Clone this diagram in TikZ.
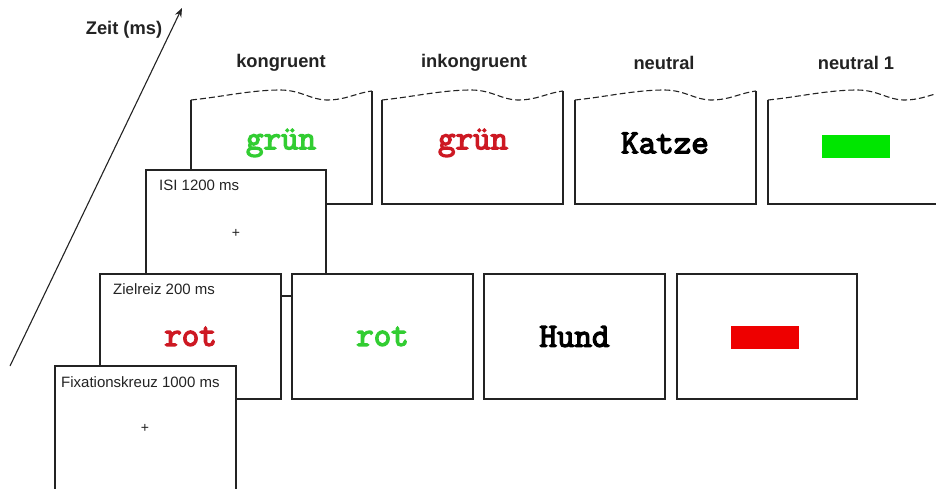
\documentclass[tikz,border=0pt]{standalone}
\usepackage{fontspec}
\setmainfont{Liberation Sans}
\newfontfamily\wordfont[AutoFakeBold=4]{Latin Modern Mono}
\usetikzlibrary{arrows.meta}
\definecolor{wgreen}{RGB}{50,205,50}
\definecolor{wred}{RGB}{205,25,35}
\definecolor{rgreen}{RGB}{0,230,0}
\definecolor{rred}{RGB}{238,0,0}
\definecolor{frm}{RGB}{35,35,35}
\tikzset{
  frame/.style={draw=frm, line width=1.2pt, fill=white, inner sep=0pt, outer sep=0pt, anchor=north west},
  wave/.style={draw=frm, line width=1.1pt, dash pattern=on 6pt off 3pt},
  lab/.style={font=\bfseries\fontsize{18.3}{20}\selectfont, text=frm},
  small/.style={font=\fontsize{15}{17}\selectfont, anchor=west, inner sep=0pt, text=frm},
  word/.style={font=\wordfont\bfseries\fontsize{34}{36}\selectfont},
  cross/.style={font=\fontsize{14}{15}\selectfont, inner sep=0pt, text=frm}
}
\newcommand\wavybox[2]{%
  \begin{scope}[xshift=#1pt]
    \fill[white] (0,100) .. controls (30,97) and (60,90) .. (89,90) .. controls (110,90) and (120,100) .. (136,100) .. controls (155,100) and (165,93) .. (181,91) -- (181,204) -- (0,204) -- cycle;
    \draw[draw=frm, line width=1.2pt] (0,100) -- (0,204) -- (181,204) -- (181,91);
    \draw[wave] (0,100) .. controls (30,97) and (60,90) .. (89,90) .. controls (110,90) and (120,100) .. (136,100) .. controls (155,100) and (165,93) .. (181,91);
    \coordinate (#2) at (90.5,147);
  \end{scope}}
\begin{document}
\begin{tikzpicture}[x=1pt,y=-1pt]
\useasboundingbox (0,0) rectangle (936,489);
\clip (0,0) rectangle (936,489);
\fill[white] (0,0) rectangle (936,489);

% time arrow
\coordinate (t0) at (10,366);
\coordinate (t1) at (182,8);
\draw[frm, line width=1.1pt, -{Stealth[length=9pt,width=7pt]}] (t0) -- (t1);
\node[lab] (zeit) at (124,30) {Zeit (ms)};

% column labels
\node[lab] (lk) at (281,63) {kongruent};
\node[lab] (li) at (474,63) {inkongruent};
\node[lab] (ln) at (664,63) {neutral};
\node[lab] (ln1) at (856,63) {neutral 1};

% top row
\wavybox{191}{c1}
\wavybox{382}{c2}
\wavybox{575}{c3}
\wavybox{768}{c4}
\node[word, text=wgreen] (w1) at (281,143) {grün};
\node[word, text=wred] (w2) at (473,143) {grün};
\node[word, text=black] (w3) at (665,143) {Katze};
\fill[rgreen] (822,135) rectangle (890,158);

% ISI
\node[frame, minimum width=180pt, minimum height=126pt] (isi) at (146,170) {};
\node[small] (isil) at (159,185) {ISI 1200 ms};
\node[cross] (isip) at (236,233) {+};

% bottom row
\node[frame, minimum width=181pt, minimum height=125pt] (b1) at (100,274) {};
\node[frame, minimum width=181pt, minimum height=125pt] (b2) at (292,274) {};
\node[frame, minimum width=181pt, minimum height=125pt] (b3) at (484,274) {};
\node[frame, minimum width=180pt, minimum height=125pt] (b4) at (677,274) {};
\node[small] (zl) at (113,289) {Zielreiz 200 ms};
\node[word, text=wred] (r1) at (b1.center) {rot};
\node[word, text=wgreen] (r2) at (b2.center) {rot};
\node[word, text=black] (h) at (b3.center) {Hund};
\fill[rred] (731,326) rectangle (799,349);

% fixation
\node[frame, minimum width=181pt, minimum height=126pt] (fix) at (55,366) {};
\node[small] (fl) at (61,382) {Fixationskreuz 1000 ms};
\node[cross] (fp) at (145,428) {+};
\end{tikzpicture}
\end{document}
